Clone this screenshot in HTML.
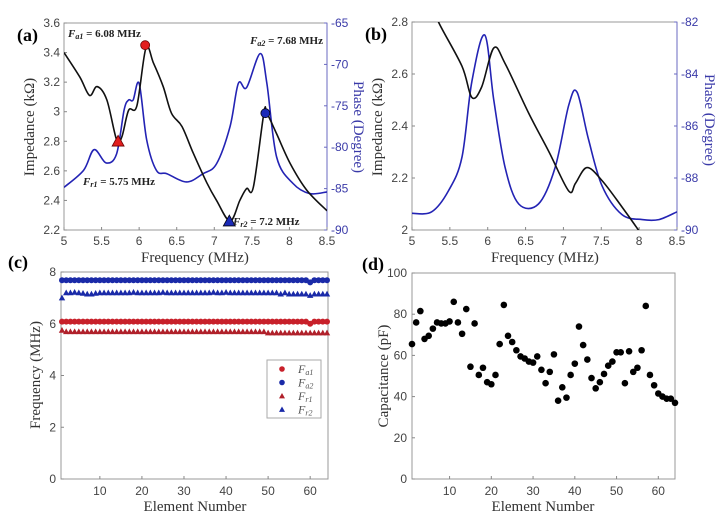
<!DOCTYPE html>
<html><head><meta charset="utf-8"><style>
html,body{margin:0;padding:0;background:#fff}
svg{display:block}
text{font-family:"Liberation Sans",sans-serif}
.ser{font-family:"Liberation Serif",serif}
.tk{font-size:12px;fill:#444}
.tb{font-size:12px;fill:#3a3aa8}
</style></head><body>
<svg id="fig" width="725" height="525" viewBox="0 0 725 525" xmlns="http://www.w3.org/2000/svg"></svg>
<script>
// ---- Data ----
const aImpFreq=[5,5.21,5.34,5.44,5.57,5.70,5.77,5.86,5.97,6.09,6.19,6.32,6.43,6.57,6.72,6.90,7.03,7.21,7.34,7.43,7.52,7.66,7.70,7.83,8.01,8.23,8.5];
const aImpVal=[3.40,3.235,3.11,3.17,3.08,2.81,2.83,3.01,3.04,3.43,3.33,3.17,2.99,2.90,2.72,2.52,2.40,2.26,2.40,2.48,2.49,2.99,2.99,2.85,2.65,2.47,2.33];
const aPhFreq=[5,5.26,5.40,5.56,5.70,5.80,5.86,5.92,6.00,6.10,6.23,6.37,6.63,6.85,7.03,7.21,7.32,7.43,7.61,7.70,7.83,8.05,8.27,8.5];
const aPhVal=[-84.85,-82.8,-80.3,-81.9,-80.8,-75.5,-74.3,-74.3,-72.3,-79.1,-82.8,-83.2,-84.2,-83.2,-82.0,-77.5,-72.3,-72.8,-68.7,-72.3,-81.2,-84.4,-85.6,-85.4];
const bImpFreq=[5.3,5.35,5.66,5.79,5.92,6.08,6.23,6.54,6.81,7.07,7.16,7.31,7.51,7.77,7.99,8.1];
const bImpVal=[2.86,2.8,2.63,2.51,2.55,2.70,2.64,2.45,2.30,2.15,2.18,2.24,2.19,2.09,2.0,1.95];
const bPhFreq=[5,5.26,5.48,5.66,5.79,5.96,6.08,6.23,6.41,6.67,6.89,7.07,7.18,7.33,7.51,7.77,8.04,8.26,8.5];
const bPhVal=[-89.36,-89.3,-88.5,-87.2,-84.3,-82.5,-85,-87.6,-89.0,-89.0,-87.6,-85.2,-84.7,-86.5,-88.3,-89.4,-89.6,-89.6,-89.3];
const elements=Array.from({length:64},(_,i)=>i+1);
const fa1=[6.08,6.08,6.08,6.08,6.08,6.08,6.08,6.08,6.08,6.08,6.08,6.08,6.08,6.08,6.08,6.08,6.08,6.08,6.08,6.08,6.08,6.08,6.08,6.08,6.08,6.08,6.08,6.08,6.08,6.08,6.08,6.08,6.08,6.08,6.08,6.08,6.08,6.08,6.08,6.08,6.08,6.08,6.08,6.08,6.08,6.08,6.08,6.08,6.08,6.08,6.08,6.08,6.08,6.08,6.08,6.08,6.08,6.08,6.08,6.0,6.08,6.08,6.08,6.08];
const fa2=[7.68,7.68,7.68,7.68,7.68,7.68,7.68,7.68,7.68,7.68,7.68,7.68,7.68,7.68,7.68,7.68,7.68,7.68,7.68,7.68,7.68,7.68,7.68,7.68,7.68,7.68,7.68,7.68,7.68,7.68,7.68,7.68,7.68,7.68,7.68,7.68,7.68,7.68,7.68,7.68,7.68,7.68,7.68,7.68,7.68,7.68,7.68,7.68,7.68,7.68,7.68,7.68,7.68,7.68,7.68,7.68,7.68,7.68,7.68,7.6,7.68,7.68,7.68,7.68];
const fr1=[5.75,5.7,5.7,5.7,5.7,5.7,5.7,5.7,5.7,5.7,5.7,5.7,5.7,5.7,5.7,5.7,5.7,5.7,5.7,5.7,5.7,5.7,5.7,5.7,5.7,5.7,5.7,5.7,5.7,5.7,5.7,5.7,5.7,5.7,5.7,5.7,5.7,5.7,5.7,5.7,5.7,5.7,5.7,5.7,5.7,5.7,5.7,5.7,5.7,5.65,5.65,5.65,5.65,5.65,5.65,5.65,5.65,5.65,5.65,5.65,5.65,5.65,5.65,5.65];
const fr2=[7.0,7.2,7.2,7.22,7.2,7.18,7.15,7.15,7.18,7.2,7.2,7.2,7.2,7.2,7.2,7.2,7.2,7.22,7.2,7.2,7.2,7.2,7.2,7.2,7.22,7.2,7.2,7.2,7.2,7.2,7.2,7.2,7.2,7.2,7.2,7.2,7.22,7.2,7.2,7.22,7.2,7.2,7.2,7.2,7.2,7.2,7.2,7.2,7.2,7.2,7.2,7.2,7.15,7.2,7.15,7.15,7.15,7.15,7.15,7.1,7.15,7.15,7.15,7.15];
const cap=[65.5,76,81.5,68,69.5,73,76,75.5,75.5,76.5,86,76,70.5,82.5,54.5,75.5,50.5,54,47,46,50.5,65.5,84.5,69.5,66.5,62.5,59.5,58.5,57,56.5,59.5,53,46.5,52,60.5,38,44.5,39.5,50.5,56,74,65,58,49,44,47,51,55,57,61.5,61.5,46.5,62,52,54,62.5,84,50.5,45.5,41.5,40,39,39,37];
const xTicksFreq=[5,5.5,6,6.5,7,7.5,8,8.5];
const aImpTicks=[2.2,2.4,2.6,2.8,3,3.2,3.4,3.6];
const aPhTicks=[-90,-85,-80,-75,-70,-65];
const bImpTicks=[2,2.2,2.4,2.6,2.8];
const bPhTicks=[-90,-88,-86,-84,-82];
const elTicks=[10,20,30,40,50,60];
const cTicks=[0,2,4,6,8];
const dTicks=[0,20,40,60,80,100];

const NS="http://www.w3.org/2000/svg";
const svg=document.getElementById('fig');
function el(tag,attrs,parent,txt){const e=document.createElementNS(NS,tag);for(const k in attrs)e.setAttribute(k,attrs[k]);if(txt!==undefined)e.textContent=txt;(parent||svg).appendChild(e);return e;}
function lin(d0,d1,r0,r1){return v=>r0+(v-d0)*(r1-r0)/(d1-d0);}
function smooth(pts){let d=`M${pts[0][0]},${pts[0][1]}`;for(let i=0;i<pts.length-1;i++){const p0=pts[Math.max(0,i-1)],p1=pts[i],p2=pts[i+1],p3=pts[Math.min(pts.length-1,i+2)];const c1=[p1[0]+(p2[0]-p0[0])/6,p1[1]+(p2[1]-p0[1])/6],c2=[p2[0]-(p3[0]-p1[0])/6,p2[1]-(p3[1]-p1[1])/6];d+=`C${c1[0]},${c1[1]} ${c2[0]},${c2[1]} ${p2[0]},${p2[1]}`;}return d;}
function box(x0,y0,x1,y1,name,right){const g=el('g',{});
 el('rect',{x:x0,y:y0,width:x1-x0,height:y1-y0,fill:'none',stroke:'#999','stroke-width':1},g);
 if(right)el('line',{x1:x1,y1:y0,x2:x1,y2:y1,stroke:'#6a6ac0','stroke-width':1},g);return g;}
function tri(x,y,s){return `${x},${y-s} ${x-s},${y+s*0.8} ${x+s},${y+s*0.8}`;}

// ---- Panel A ----
(function(){
 const X=lin(5,8.5,64,327),Y=lin(2.2,3.6,230,23),YP=lin(-90,-65,230,23);
 box(64,23,327,230,'panel-a-axes',true);
 const defs=el('defs',{});const cp=el('clipPath',{id:'ca'},defs);el('rect',{x:64,y:23,width:263,height:207},cp);
 xTicksFreq.forEach(t=>{const x=X(t);el('line',{x1:x,y1:230,x2:x,y2:227,stroke:'#888'});const tt=el('text',{x:x,y:245,'text-anchor':'middle',class:'tk'},svg,String(t));});
 aImpTicks.forEach(t=>{const y=Y(t);el('line',{x1:64,y1:y,x2:67,y2:y,stroke:'#888'});const tt=el('text',{x:60,y:y+4,'text-anchor':'end',class:'tk'},svg,String(t));});
 aPhTicks.forEach(t=>{const y=YP(t);el('line',{x1:327,y1:y,x2:324,y2:y,stroke:'#6a6ac0'});const tt=el('text',{x:331,y:y+4,class:'tb'},svg,String(t));});
 const ph=el('path',{d:smooth(aPhFreq.map((f,i)=>[X(f),YP(aPhVal[i])])),fill:'none',stroke:'#2323b4','stroke-width':1.6,'clip-path':'url(#ca)'});
 
 const im=el('path',{d:smooth(aImpFreq.map((f,i)=>[X(f),Y(aImpVal[i])])),fill:'none',stroke:'#111','stroke-width':1.6,'clip-path':'url(#ca)'});
 
 let m=el('circle',{cx:X(6.08),cy:Y(3.45),r:4.5,fill:'#e21e1e',stroke:'#600','stroke-width':0.8});
 m=el('polygon',{points:tri(X(5.72),Y(2.8),6),fill:'#e21e1e',stroke:'#600','stroke-width':0.8});
 m=el('circle',{cx:X(7.68),cy:Y(2.99),r:4.5,fill:'#1a2ab8',stroke:'#001','stroke-width':0.8});
 m=el('polygon',{points:tri(X(7.2),Y(2.26),6),fill:'#1a2ab8',stroke:'#001','stroke-width':0.8});
})();
</script>
<script>
// ---- Panel B ----
(function(){
 const X=lin(5,8.5,412,677),Y=lin(2,2.8,230,22),YP=lin(-90,-82,230,22);
 box(412,22,677,230,'panel-b-axes',true);
 const defs=el('defs',{});const cp=el('clipPath',{id:'cb'},defs);el('rect',{x:412,y:22,width:265,height:208},cp);
 xTicksFreq.forEach(t=>{const x=X(t);el('line',{x1:x,y1:230,x2:x,y2:227,stroke:'#888'});const tt=el('text',{x:x,y:245,'text-anchor':'middle',class:'tk'},svg,String(t));});
 bImpTicks.forEach(t=>{const y=Y(t);el('line',{x1:412,y1:y,x2:415,y2:y,stroke:'#888'});const tt=el('text',{x:408,y:y+4,'text-anchor':'end',class:'tk'},svg,String(t));});
 bPhTicks.forEach(t=>{const y=YP(t);el('line',{x1:677,y1:y,x2:674,y2:y,stroke:'#6a6ac0'});const tt=el('text',{x:681,y:y+4,class:'tb'},svg,String(t));});
 const ph=el('path',{d:smooth(bPhFreq.map((f,i)=>[X(f),YP(bPhVal[i])])),fill:'none',stroke:'#2323b4','stroke-width':1.6,'clip-path':'url(#cb)'});
 
 const im=el('path',{d:smooth(bImpFreq.map((f,i)=>[X(f),Y(bImpVal[i])])),fill:'none',stroke:'#111','stroke-width':1.6,'clip-path':'url(#cb)'});
 
})();
// ---- Panel C ----
(function(){
 const X=lin(1,64,62,327),Y=lin(0,8,479,272);
 box(61,272,328,479,'panel-c-axes',false);
 elTicks.forEach(t=>{const x=X(t);el('line',{x1:x,y1:479,x2:x,y2:476,stroke:'#888'});const tt=el('text',{x:x,y:495,'text-anchor':'middle',class:'tk'},svg,String(t));});
 cTicks.forEach(t=>{const y=Y(t);el('line',{x1:61,y1:y,x2:64,y2:y,stroke:'#888'});const tt=el('text',{x:56,y:y+4,'text-anchor':'end',class:'tk'},svg,String(t));});
 const series=[[fa1,'#c8202a','c'],[fa2,'#1a2aa8','c'],[fr1,'#b0202a','t'],[fr2,'#1a2aa8','t']];
 series.forEach((s,si)=>{elements.forEach((e,i)=>{const x=X(e),y=Y(s[0][i]);let m;
  if(s[2]==='c')m=el('circle',{cx:x,cy:y,r:3,fill:s[1]});else m=el('polygon',{points:tri(x,y,3.2),fill:s[1]});
  });});
 const lg=el('g',{});
 el('rect',{x:267,y:360,width:54,height:58,fill:'#fff',stroke:'#aaa'},lg);
 const labs=[['a','1'],['a','2'],['r','1'],['r','2']];
 series.forEach((s,i)=>{const y=369+i*13.5;
  if(s[2]==='c')el('circle',{cx:282,cy:y,r:2.8,fill:s[1]},lg);else el('polygon',{points:tri(282,y,3),fill:s[1]},lg);
  const t=el('text',{x:298,y:y+4,class:'ser','font-size':'12','font-style':'italic',fill:'#555'},lg,'F');
  const ts=el('tspan',{'font-size':'8',dy:'2'},t,labs[i][0]+labs[i][1]);
  const le=t;});
})();
// ---- Panel D ----
(function(){
 const X=lin(1,64,412,675),Y=lin(0,100,479,273);
 box(412,273,675,479,'panel-d-axes',false);
 elTicks.forEach(t=>{const x=X(t);el('line',{x1:x,y1:479,x2:x,y2:476,stroke:'#888'});const tt=el('text',{x:x,y:495,'text-anchor':'middle',class:'tk'},svg,String(t));});
 dTicks.forEach(t=>{const y=Y(t);el('line',{x1:412,y1:y,x2:415,y2:y,stroke:'#888'});const tt=el('text',{x:407,y:y+4,'text-anchor':'end',class:'tk'},svg,String(t));});
 elements.forEach((e,i)=>{const m=el('circle',{cx:X(e),cy:Y(cap[i]),r:3.3,fill:'#000'});
  });
})();
// ---- Text labels ----
(function(){
 function T(name,attrs,txt){const t=el('text',attrs,svg,txt);return t;}
 T('panel-a-label',{x:17,y:41,class:'ser','font-size':'18','font-weight':'bold'},'(a)');
 T('panel-b-label',{x:365,y:40,class:'ser','font-size':'18','font-weight':'bold'},'(b)');
 T('panel-c-label',{x:8,y:268,class:'ser','font-size':'18','font-weight':'bold'},'(c)');
 T('panel-d-label',{x:362,y:270,class:'ser','font-size':'18','font-weight':'bold'},'(d)');
 T('a-x-title',{x:195,y:262,'text-anchor':'middle',class:'ser','font-size':'15',fill:'#333'},'Frequency (MHz)');
 T('b-x-title',{x:545,y:262,'text-anchor':'middle',class:'ser','font-size':'15',fill:'#333'},'Frequency (MHz)');
 T('c-x-title',{x:195,y:511,'text-anchor':'middle',class:'ser','font-size':'15',fill:'#333'},'Element Number');
 T('d-x-title',{x:543,y:511,'text-anchor':'middle',class:'ser','font-size':'15',fill:'#333'},'Element Number');
 T('a-y-title',{transform:'translate(34,127) rotate(-90)','text-anchor':'middle',class:'ser','font-size':'15',fill:'#333'},'Impedance (kΩ)');
 T('a-y2-title',{transform:'translate(354,127) rotate(90)','text-anchor':'middle',class:'ser','font-size':'15',fill:'#3a3aa8'},'Phase (Degree)');
 T('b-y-title',{transform:'translate(382,127) rotate(-90)','text-anchor':'middle',class:'ser','font-size':'15',fill:'#333'},'Impedance (kΩ)');
 T('b-y2-title',{transform:'translate(705,120) rotate(90)','text-anchor':'middle',class:'ser','font-size':'15',fill:'#3a3aa8'},'Phase (Degree)');
 T('c-y-title',{transform:'translate(40,375) rotate(-90)','text-anchor':'middle',class:'ser','font-size':'15',fill:'#333'},'Frequency (MHz)');
 T('d-y-title',{transform:'translate(388,376) rotate(-90)','text-anchor':'middle',class:'ser','font-size':'15',fill:'#333'},'Capacitance (pF)');
 function ann(name,x,y,sub,val,anchor){const t=T(name,{x:x,y:y,class:'ser','font-size':'11','font-weight':'bold',fill:'#222','text-anchor':anchor||'start'},'');
  el('tspan',{'font-style':'italic'},t,'F');el('tspan',{'font-size':'8',dy:'2','font-style':'italic'},t,sub);el('tspan',{dy:'-2'},t,' = '+val);}
 ann('annotation-fa1',68,37,'a1','6.08 MHz');
 ann('annotation-fa2',323,44,'a2','7.68 MHz','end');
 ann('annotation-fr1',83,185,'r1','5.75 MHz');
 ann('annotation-fr2',233,225,'r2','7.2 MHz');
})();
</script>
</body></html>
